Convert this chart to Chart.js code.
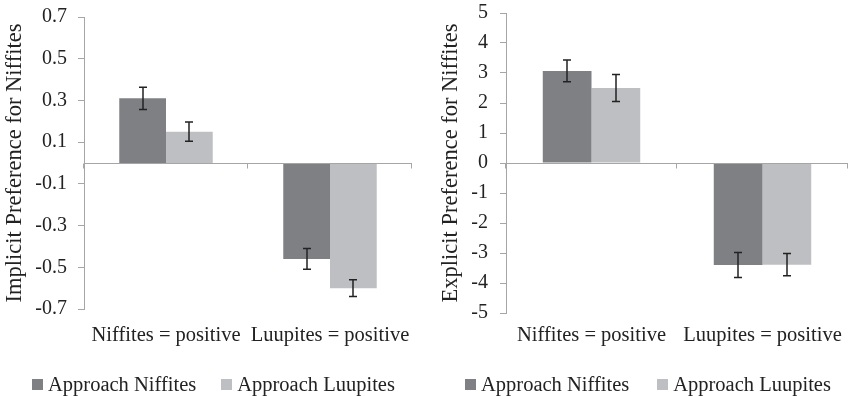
<!DOCTYPE html>
<html lang="en">
<head>
<meta charset="UTF-8">
<title>Implicit and explicit preference for Niffites</title>
<style>
    body, html {
        margin: 0;
        padding: 0;
        width: 849px;
        height: 396px;
        overflow: hidden;
        background: #ffffff;
        font-family: "Liberation Serif", "Times New Roman", serif;
    }
    .panel {
        position: absolute;
        top: 0;
    }
    #implicitChart { left: 0; }
    #explicitChart { left: 420px; }
    .legend {
        position: absolute;
        top: 372px;
        height: 24px;
        display: flex;
        align-items: center;
        font-size: 20.5px;
        line-height: 24px;
        color: #222222;
        white-space: nowrap;
    }
    .legend .item {
        display: flex;
        align-items: center;
    }
    .legend i {
        display: inline-block;
        width: 11px;
        height: 11px;
        margin-right: 5px;
    }
    #implicitLegend { left: 32px; gap: 25px; }
    #explicitLegend { left: 465px; gap: 28px; }
</style>
</head>
<body>
    <canvas id="implicitChart" class="panel" width="420" height="396"></canvas>
    <canvas id="explicitChart" class="panel" width="429" height="396"></canvas>
    <div id="implicitLegend" class="legend"></div>
    <div id="explicitLegend" class="legend"></div>

    <script src="https://cdn.jsdelivr.net/npm/chart.js"></script>
    <script>
        const categories = ['Niffites = positive', 'Luupites = positive'];
        const seriesNames = ['Approach Niffites', 'Approach Luupites'];
        const seriesColors = ['#7f8084', '#bebfc2'];

        // implicit preference (left panel)
        const implicitNiffites = [0.31, -0.46];
        const implicitLuupites = [0.15, -0.60];
        const implicitErrNiffites = [0.053, 0.05];
        const implicitErrLuupites = [0.046, 0.04];
        const implicitTicks = [-0.7, -0.5, -0.3, -0.1, 0.1, 0.3, 0.5, 0.7];

        // explicit preference (right panel)
        const explicitNiffites = [3.07, -3.40];
        const explicitLuupites = [2.50, -3.39];
        const explicitErrNiffites = [0.36, 0.42];
        const explicitErrLuupites = [0.45, 0.37];
        const explicitTicks = [-5, -4, -3, -2, -1, 0, 1, 2, 3, 4, 5];

        const axisGray = '#a6a6a6';
        const inkColor = '#222222';
        Chart.defaults.font.family = '"Liberation Serif", "Times New Roman", serif';

        // zero axis line, category tick marks and error bars
        const zeroAxisAndErrors = {
            id: 'zeroAxisAndErrors',
            afterDatasetsDraw(chart) {
                const ctx = chart.ctx;
                const xs = chart.scales.x;
                const ys = chart.scales.y;
                const area = chart.chartArea;
                const y0 = Math.round(ys.getPixelForValue(0)) + 0.5;

                ctx.save();
                ctx.strokeStyle = axisGray;
                ctx.lineWidth = 1;
                ctx.beginPath();
                ctx.moveTo(area.left, y0);
                ctx.lineTo(area.right, y0);
                for (let i = 0; i <= categories.length; i++) {
                    const bx = Math.round(xs.getPixelForValue(i - 0.5)) - 0.5;
                    ctx.moveTo(bx, y0);
                    ctx.lineTo(bx, y0 + 5);
                }
                ctx.stroke();

                ctx.strokeStyle = inkColor;
                ctx.lineWidth = 1.5;
                chart.data.datasets.forEach((ds, i) => {
                    chart.getDatasetMeta(i).data.forEach((bar, j) => {
                        const v = ds.data[j];
                        const e = ds.errors[j];
                        const top = ys.getPixelForValue(v + e);
                        const bot = ys.getPixelForValue(v - e);
                        const cx = Math.round(bar.x);
                        ctx.beginPath();
                        ctx.moveTo(cx, top);
                        ctx.lineTo(cx, bot);
                        ctx.moveTo(cx - 4, top);
                        ctx.lineTo(cx + 4, top);
                        ctx.moveTo(cx - 4, bot);
                        ctx.lineTo(cx + 4, bot);
                        ctx.stroke();
                    });
                });
                ctx.restore();
            }
        };

        function makeChart(id, cfg) {
            return new Chart(document.getElementById(id), {
                type: 'bar',
                data: {
                    labels: categories,
                    datasets: [
                        { label: seriesNames[0], data: cfg.first, errors: cfg.firstErr, backgroundColor: seriesColors[0] },
                        { label: seriesNames[1], data: cfg.second, errors: cfg.secondErr, backgroundColor: seriesColors[1] }
                    ]
                },
                options: {
                    responsive: false,
                    animation: false,
                    layout: { padding: cfg.padding },
                    datasets: { bar: { categoryPercentage: 0.57, barPercentage: 1 } },
                    plugins: {
                        legend: { display: false },
                        tooltip: { enabled: false }
                    },
                    scales: {
                        x: {
                            grid: { display: false, drawTicks: false },
                            border: { display: false },
                            ticks: {
                                color: inkColor,
                                font: { size: 20.5 },
                                padding: cfg.xPad,
                                maxRotation: 0,
                                autoSkip: false
                            },
                            afterFit: s => {
                                s.height = cfg.xHeight;
                                s.paddingLeft = 0;
                                s.paddingRight = 0;
                            }
                        },
                        y: {
                            min: cfg.ticks[0],
                            max: cfg.ticks[cfg.ticks.length - 1],
                            afterBuildTicks: s => { s.ticks = cfg.ticks.map(v => ({ value: v })); },
                            grid: { drawOnChartArea: false, tickLength: 6, color: axisGray },
                            border: { color: axisGray },
                            ticks: {
                                color: inkColor,
                                font: { size: 20 },
                                padding: cfg.yPad,
                                callback: v => v.toFixed(cfg.decimals)
                            },
                            title: {
                                display: true,
                                text: cfg.title,
                                color: inkColor,
                                font: { size: 22.5 },
                                padding: { top: cfg.titlePad, bottom: 0 }
                            },
                            afterFit: s => {
                                s.width = cfg.yWidth;
                                s.paddingTop = 0;
                                s.paddingBottom = 0;
                            }
                        }
                    }
                },
                plugins: [zeroAxisAndErrors]
            });
        }

        function makeLegend(id) {
            const box = document.getElementById(id);
            seriesNames.forEach((name, i) => {
                const item = document.createElement('span');
                item.className = 'item';
                const sw = document.createElement('i');
                sw.style.background = seriesColors[i];
                item.appendChild(sw);
                item.appendChild(document.createTextNode(name));
                box.appendChild(item);
            });
        }

        makeChart('implicitChart', {
            first: implicitNiffites, firstErr: implicitErrNiffites,
            second: implicitLuupites, secondErr: implicitErrLuupites,
            ticks: implicitTicks, decimals: 1,
            title: 'Implicit Preference for Niffites',
            padding: { top: 17, right: 8, left: 0, bottom: 0 },
            yWidth: 84, xHeight: 87, xPad: 14, yPad: 11, titlePad: 1.5
        });

        makeChart('explicitChart', {
            first: explicitNiffites, firstErr: explicitErrNiffites,
            second: explicitLuupites, secondErr: explicitErrLuupites,
            ticks: explicitTicks, decimals: 0,
            title: 'Explicit Preference for Niffites',
            padding: { top: 13, right: 1, left: 0, bottom: 0 },
            yWidth: 86, xHeight: 83, xPad: 10, yPad: 12, titlePad: 18
        });

        makeLegend('implicitLegend');
        makeLegend('explicitLegend');
    </script>
</body>
</html>
